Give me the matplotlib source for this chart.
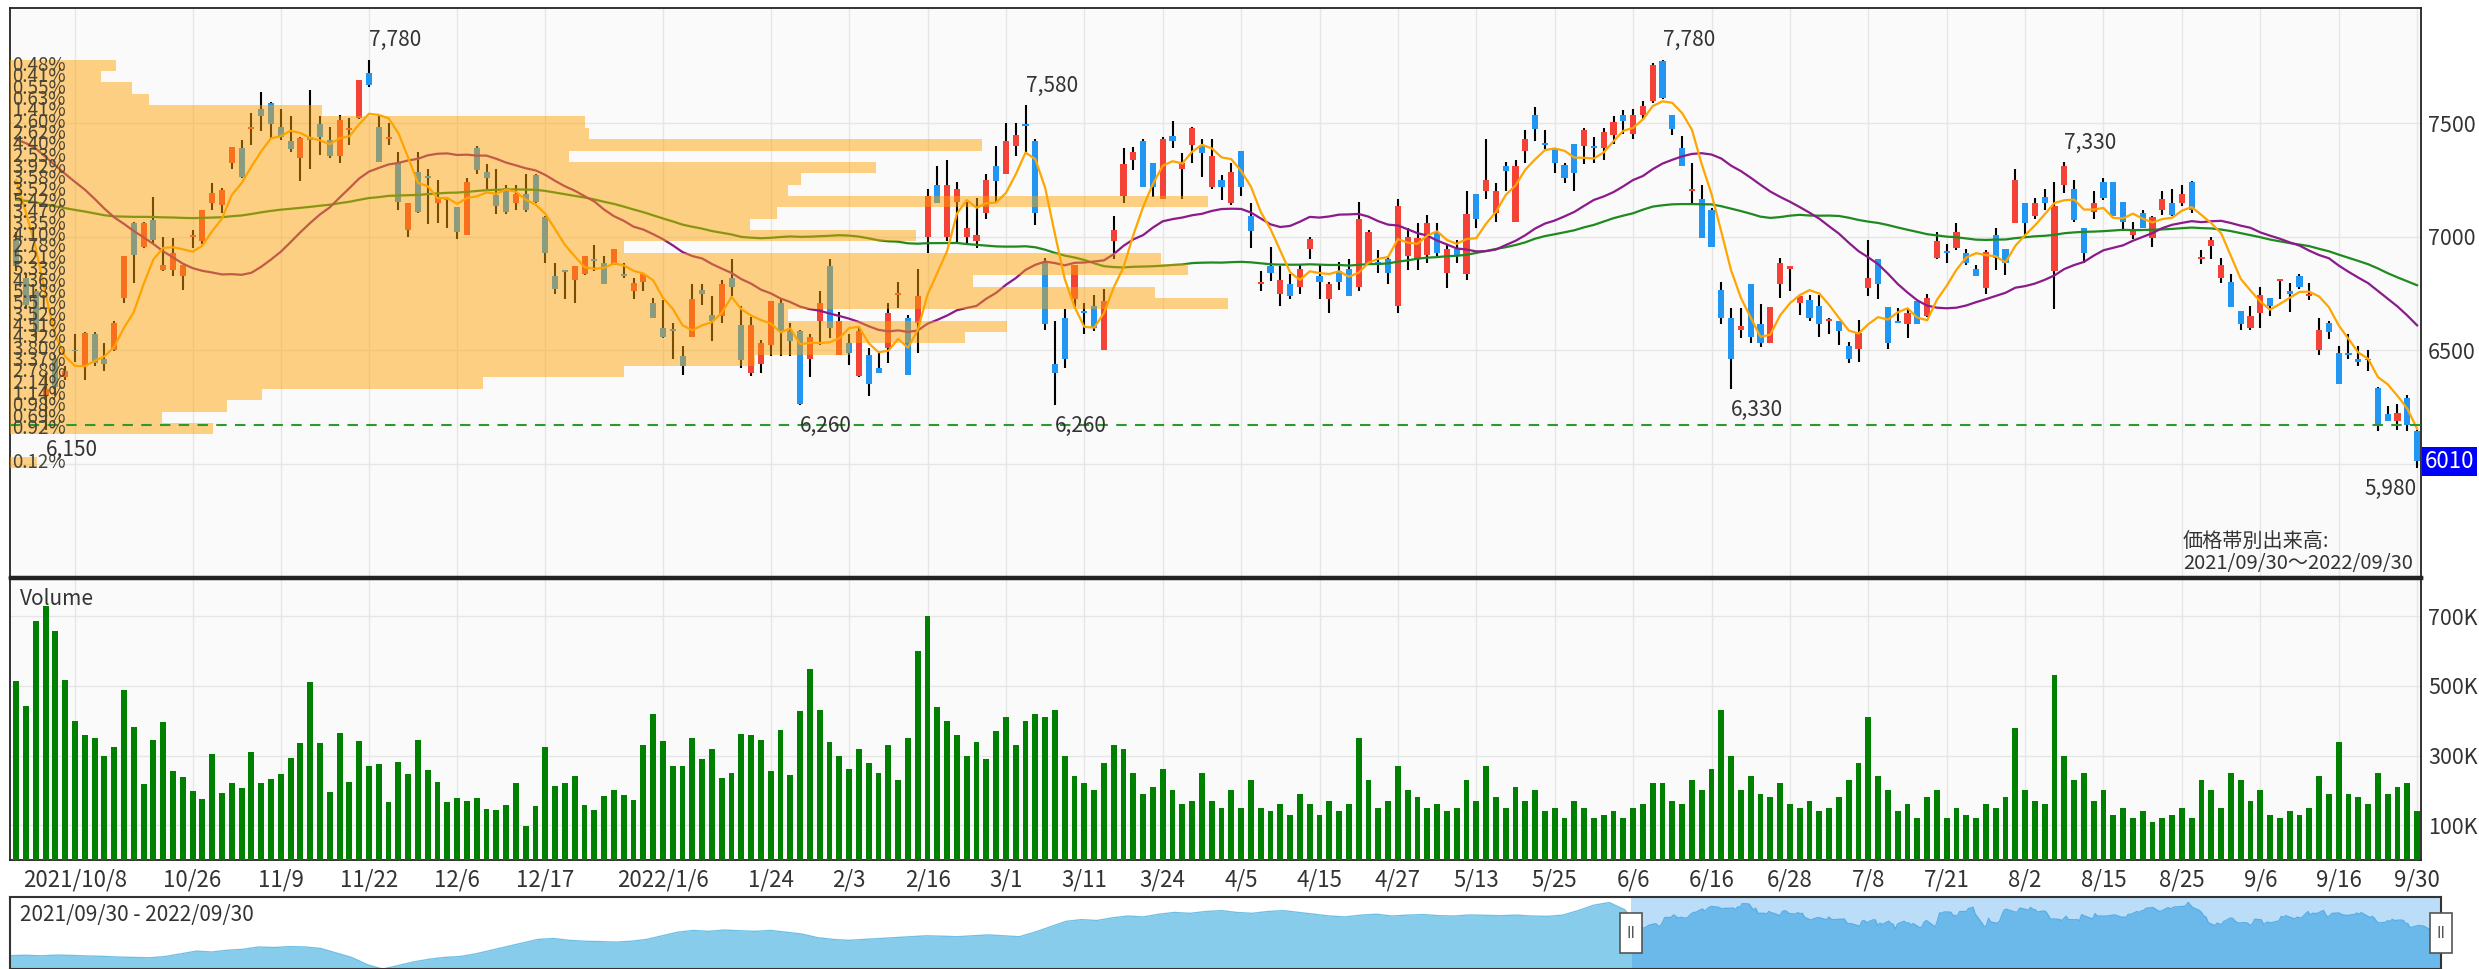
import numpy as np
import pandas as pd
import matplotlib
matplotlib.use("Agg")
import matplotlib.pyplot as plt
import matplotlib.dates as mdates
import matplotlib.transforms as mtrans
from matplotlib.patches import Rectangle

plt.rcParams['font.family'] = ['Noto Sans CJK JP', 'DejaVu Sans']

# ---- data -------------------------------------------------------------
jp_holidays = ["2021-11-03", "2021-11-23", "2021-12-31", "2022-01-03", "2022-01-10",
               "2022-02-11", "2022-02-23", "2022-03-21", "2022-04-29", "2022-05-03",
               "2022-05-04", "2022-05-05", "2022-07-18", "2022-08-11", "2022-09-19",
               "2022-09-23"]

opens = [6990, 6820, 6760, 6300, 6460, 6380, 6500, 6430, 6570, 6460,
         6500, 6730, 7060, 6955, 7075, 6855, 6855, 6825, 7000, 6980,
         7150, 7140, 7325, 7390, 7475, 7565, 7590, 7485, 7420, 7345,
         7440, 7495, 7425, 7355, 7470, 7525, 7720, 7485, 7430, 7325,
         7030, 7285, 7265, 7150, 7165, 7130, 7010, 7390, 7285, 7185,
         7215, 7150, 7190, 7270, 7085, 6825, 6850, 6810, 6835, 6900,
         6885, 6875, 6835, 6760, 6800, 6710, 6600, 6590, 6475, 6560,
         6765, 6655, 6650, 6820, 6610, 6400, 6440, 6525, 6710, 6585,
         6585, 6460, 6630, 6870, 6480, 6530, 6385, 6480, 6420, 6510,
         6745, 6640, 6620, 7000, 7230, 7000, 7155, 7000, 6980, 7105,
         7310, 7275, 7400, 7495, 7420, 6885, 6440, 6640, 6725, 6675,
         6695, 6500, 6980, 7180, 7340, 7420, 7325, 7165, 7445, 7300,
         7405, 7405, 7220, 7250, 7150, 7380, 7090, 6790, 6870, 6750,
         6790, 6780, 6945, 6825, 6725, 6850, 6860, 6780, 6885, 6890,
         6900, 6695, 6915, 6900, 6920, 7015, 6840, 6945, 6835, 7190,
         7200, 7105, 7310, 7065, 7380, 7535, 7410, 7385, 7315, 7410,
         7400, 7400, 7390, 7450, 7535, 7455, 7535, 7600, 7775, 7535,
         7390, 7200, 7165, 7120, 6765, 6640, 6590, 6790, 6615, 6530,
         6790, 6860, 6710, 6720, 6695, 6630, 6630, 6520, 6505, 6775,
         6900, 6690, 6630, 6615, 6715, 6650, 6905, 6935, 6950, 6930,
         6860, 6775, 7010, 6945, 7060, 7150, 7090, 7175, 6850, 7230,
         7210, 7040, 7110, 7240, 7240, 7155, 7010, 7105, 6995, 7120,
         7150, 7150, 7240, 6900, 6960, 6820, 6800, 6675, 6600, 6665,
         6730, 6805, 6760, 6825, 6740, 6500, 6620, 6490, 6490, 6460,
         6460, 6335, 6220, 6190, 6290, 6145]
highs = [7020, 6840, 6770, 6400, 6480, 6430, 6570, 6580, 6580, 6530,
         6630, 6915, 7065, 7065, 7175, 7000, 6995, 6875, 7030, 7120,
         7235, 7215, 7395, 7425, 7545, 7640, 7595, 7565, 7530, 7440,
         7645, 7530, 7485, 7535, 7525, 7690, 7780, 7535, 7500, 7375,
         7150, 7375, 7300, 7250, 7170, 7130, 7260, 7400, 7320, 7300,
         7230, 7230, 7275, 7275, 7090, 6885, 6850, 6870, 6915, 6965,
         6915, 6945, 6885, 6820, 6835, 6730, 6720, 6620, 6520, 6790,
         6790, 6740, 6810, 6900, 6695, 6645, 6545, 6715, 6730, 6620,
         6590, 6570, 6760, 6900, 6670, 6570, 6600, 6510, 6490, 6710,
         6800, 6655, 6860, 7210, 7310, 7340, 7240, 7155, 7170, 7275,
         7400, 7500, 7500, 7580, 7430, 6905, 6630, 6680, 6875, 6710,
         6745, 6770, 7090, 7390, 7395, 7430, 7325, 7440, 7510, 7370,
         7485, 7430, 7430, 7270, 7325, 7380, 7150, 6850, 6955, 6870,
         6835, 6875, 7000, 6875, 6800, 6890, 6900, 7155, 7030, 6940,
         6915, 7165, 7040, 7060, 7095, 7060, 6965, 6985, 7200, 7190,
         7430, 7235, 7330, 7340, 7470, 7570, 7470, 7385, 7325, 7410,
         7480, 7440, 7480, 7530, 7560, 7565, 7600, 7765, 7780, 7535,
         7445, 7325, 7230, 7125, 6800, 6685, 6685, 6790, 6705, 6690,
         6905, 6870, 6740, 6745, 6745, 6640, 6630, 6535, 6635, 6985,
         6900, 6690, 6685, 6685, 6715, 6750, 7020, 6970, 7060, 6945,
         6875, 6940, 7040, 6945, 7300, 7150, 7170, 7210, 7240, 7330,
         7250, 7040, 7200, 7260, 7240, 7155, 7065, 7120, 7090, 7200,
         7210, 7230, 7245, 6940, 7000, 6905, 6835, 6675, 6695, 6780,
         6730, 6815, 6795, 6835, 6795, 6640, 6630, 6520, 6570, 6520,
         6500, 6340, 6255, 6265, 6305, 6150]
lows = [6850, 6680, 6560, 6150, 6300, 6370, 6450, 6370, 6430, 6410,
        6495, 6710, 6795, 6950, 6970, 6850, 6825, 6765, 6950, 6970,
        7120, 7105, 7300, 7260, 7405, 7465, 7435, 7425, 7375, 7245,
        7300, 7360, 7345, 7325, 7405, 7520, 7660, 7330, 7405, 7120,
        7000, 7105, 7055, 7060, 7040, 6990, 7010, 7275, 7210, 7100,
        7100, 7120, 7110, 7150, 6885, 6750, 6725, 6710, 6830, 6850,
        6790, 6875, 6820, 6725, 6760, 6640, 6555, 6460, 6390, 6560,
        6700, 6540, 6620, 6740, 6420, 6385, 6400, 6475, 6475, 6475,
        6260, 6380, 6525, 6555, 6480, 6435, 6380, 6300, 6400, 6445,
        6685, 6390, 6490, 6930, 7150, 6980, 6970, 6970, 6950, 7080,
        7150, 7275, 7355, 7375, 7050, 6590, 6260, 6420, 6685, 6570,
        6585, 6500, 6900, 7150, 7295, 7220, 7175, 7165, 7390, 7165,
        7325, 7265, 7210, 7160, 7140, 7180, 6950, 6760, 6805, 6695,
        6725, 6750, 6900, 6725, 6665, 6765, 6740, 6760, 6885, 6840,
        6790, 6665, 6855, 6855, 6885, 6915, 6775, 6885, 6810, 7040,
        7165, 7065, 7200, 7065, 7325, 7420, 7385, 7280, 7235, 7200,
        7320, 7325, 7340, 7410, 7455, 7430, 7515, 7590, 7605, 7450,
        7310, 7150, 6995, 6955, 6615, 6330, 6555, 6530, 6515, 6530,
        6730, 6760, 6655, 6630, 6560, 6570, 6525, 6445, 6450, 6740,
        6725, 6505, 6620, 6555, 6615, 6645, 6900, 6885, 6940, 6875,
        6825, 6750, 6855, 6830, 7060, 7010, 7080, 7120, 6680, 7195,
        7065, 6885, 7080, 7160, 7090, 7025, 6990, 7040, 6955, 7095,
        7090, 7135, 7105, 6880, 6900, 6795, 6690, 6590, 6590, 6600,
        6650, 6725, 6670, 6770, 6720, 6480, 6550, 6350, 6460, 6430,
        6410, 6145, 6190, 6150, 6145, 5980]
closes = [6870, 6700, 6580, 6330, 6340, 6410, 6495, 6575, 6445, 6440,
          6620, 6915, 6920, 7060, 6985, 6875, 6930, 6875, 7005, 7120,
          7195, 7205, 7395, 7265, 7485, 7530, 7495, 7440, 7385, 7435,
          7425, 7440, 7355, 7515, 7480, 7690, 7670, 7330, 7440, 7155,
          7150, 7110, 7260, 7175, 7160, 7020, 7240, 7295, 7260, 7135,
          7110, 7190, 7120, 7155, 6930, 6770, 6845, 6870, 6915, 6895,
          6790, 6945, 6825, 6795, 6835, 6640, 6560, 6585, 6430, 6725,
          6750, 6630, 6790, 6780, 6455, 6610, 6530, 6715, 6585, 6540,
          6265, 6560, 6710, 6600, 6630, 6490, 6585, 6350, 6400, 6665,
          6750, 6390, 6740, 7180, 7150, 7230, 7210, 7040, 7010, 7250,
          7245, 7420, 7450, 7490, 7105, 6615, 6400, 6460, 6875, 6665,
          6600, 6715, 7030, 7320, 7375, 7220, 7220, 7430, 7420, 7325,
          7480, 7370, 7355, 7220, 7285, 7220, 7025, 6800, 6840, 6810,
          6740, 6860, 6990, 6800, 6790, 6800, 6740, 7080, 7020, 6875,
          6840, 7135, 7000, 6995, 7060, 6930, 6945, 6915, 7100, 7080,
          7250, 7200, 7290, 7310, 7430, 7475, 7405, 7325, 7260, 7280,
          7470, 7390, 7460, 7505, 7510, 7535, 7575, 7755, 7610, 7475,
          7310, 7210, 6995, 6955, 6640, 6460, 6605, 6560, 6530, 6690,
          6885, 6870, 6740, 6640, 6615, 6635, 6585, 6460, 6575, 6820,
          6790, 6530, 6620, 6665, 6615, 6730, 6980, 6930, 7020, 6885,
          6825, 6935, 6905, 6885, 7250, 7060, 7150, 7150, 7135, 7310,
          7075, 6930, 7150, 7170, 7090, 7065, 7035, 7040, 7085, 7165,
          7095, 7190, 7120, 6910, 6985, 6875, 6690, 6615, 6650, 6745,
          6695, 6815, 6750, 6780, 6750, 6590, 6580, 6350, 6480, 6450,
          6455, 6175, 6190, 6225, 6170, 6010]
# volume in thousands of shares
volumes = [514, 442, 687, 730, 658, 516, 400, 359, 350, 299,
           324, 489, 382, 218, 345, 395, 257, 237, 197, 176,
           305, 192, 220, 208, 309, 220, 233, 246, 293, 335,
           511, 335, 194, 365, 225, 341, 269, 275, 167, 282,
           248, 346, 258, 224, 168, 177, 170, 179, 146, 145,
           158, 220, 98, 154, 326, 212, 220, 242, 158, 145,
           184, 202, 186, 173, 329, 419, 343, 269, 271, 349,
           291, 320, 236, 251, 361, 358, 345, 256, 374, 245,
           429, 548, 430, 340, 300, 260, 320, 280, 250, 330,
           230, 350, 600, 700, 440, 400, 360, 300, 340, 290,
           370, 410, 330, 400, 420, 410, 430, 300, 240, 220,
           200, 280, 330, 320, 250, 190, 210, 260, 200, 160,
           170, 250, 170, 150, 200, 150, 230, 150, 140, 160,
           130, 190, 160, 130, 170, 140, 160, 350, 230, 150,
           170, 270, 200, 180, 150, 160, 140, 150, 230, 170,
           270, 180, 150, 210, 170, 200, 140, 150, 120, 170,
           150, 120, 130, 140, 120, 150, 160, 220, 220, 170,
           160, 230, 200, 260, 430, 300, 200, 240, 190, 180,
           220, 160, 150, 170, 140, 150, 180, 230, 280, 410,
           240, 200, 140, 160, 120, 180, 200, 120, 150, 130,
           120, 160, 150, 180, 380, 200, 170, 160, 530, 300,
           230, 250, 170, 200, 130, 150, 120, 140, 110, 120,
           130, 150, 120, 230, 200, 150, 250, 230, 170, 200,
           130, 120, 140, 130, 150, 240, 190, 340, 190, 180,
           160, 250, 190, 210, 220, 140]
# closes before the window, used only for the moving averages
hist_close = [7050, 7080, 7020, 6990, 7010, 7060, 7100, 7070, 7040, 7000,
              6980, 7020, 7050, 7030, 7000, 6980, 7010, 7060, 7060,
              7080, 7100, 7060, 7020, 7000, 6980, 7010, 7050, 7090, 7120,
              7100, 7060, 7030, 7000, 7020, 7050, 7070, 7040, 7010, 7030, 7060,
              7020, 6990, 6960, 6940, 6960, 6990, 7000, 7010, 6990, 7050,
              7120, 7180, 7240, 7290, 7330, 7380, 7420, 7460, 7520, 7580,
              7640, 7700, 7760, 7720, 7680, 7600, 7560, 7500, 7420, 7380,
              7420, 7360, 7340, 7260]
# weekly closes for the navigator, 2019/09/30 .. 2021/09/27
nav_weekly = [4800, 4820, 4790, 4830, 4810, 4780, 4760, 4720, 4700,
              4680, 4750, 4900, 5050, 5000, 5100, 5150,
              5280, 5250, 5300, 5280, 5200, 4950,
              4700, 4300, 4050, 4250,
              4450, 4600, 4700, 4750, 4900, 5100,
              5300, 5500, 5700, 5750, 5650, 5600, 5580,
              5550, 5600, 5700, 5900, 6100, 6200, 6150, 6220, 6180,
              6150, 6200, 6100, 6000, 5800, 5700, 5650, 5700, 5750,
              5800, 5850, 5900, 5880, 5850, 5900, 5950, 5900, 5850,
              6100, 6400, 6700, 6800, 6750, 6900, 7000, 6950, 7100,
              7200, 7150, 7250, 7300, 7200, 7150, 7250, 7300, 7200,
              7100, 7000, 6950, 7050, 7100, 7000, 7050, 7080, 7020,
              7000, 7060, 7040, 7020, 7050, 7000, 6980, 7050,
              7300, 7600, 7750, 7350]
# price-by-volume profile, 50-yen bins from 7780 downward (percent)
profile_top = 7780
profile_step = 50
profile_pct = [0.48, 0.41, 0.55, 0.63, 1.41, 2.60, 2.62, 4.40, 2.53, 3.92,
               3.58, 3.52, 5.42, 3.47, 3.35, 4.10, 2.78, 5.21, 5.33, 4.36,
               5.18, 5.51, 3.52, 4.51, 4.32, 3.80, 3.37, 2.78, 2.14, 1.14,
               0.98, 0.69, 0.92, 0.0, 0.0, 0.12]
tick_dates = ["2021-10-08", "2021-10-26", "2021-11-09", "2021-11-22", "2021-12-06",
              "2021-12-17", "2022-01-06", "2022-01-24", "2022-02-03", "2022-02-16",
              "2022-03-01", "2022-03-11", "2022-03-24", "2022-04-05", "2022-04-15",
              "2022-04-27", "2022-05-13", "2022-05-25", "2022-06-06", "2022-06-16",
              "2022-06-28", "2022-07-08", "2022-07-21", "2022-08-02", "2022-08-15",
              "2022-08-25", "2022-09-06", "2022-09-16", "2022-09-30"]
tick_labels = ["2021/10/8", "10/26", "11/9", "11/22", "12/6", "12/17", "2022/1/6",
               "1/24", "2/3", "2/16", "3/1", "3/11", "3/24", "4/5", "4/15", "4/27",
               "5/13", "5/25", "6/6", "6/16", "6/28", "7/8", "7/21", "8/2", "8/15",
               "8/25", "9/6", "9/16", "9/30"]
peak_idx = [36, 103, 168, 209]
trough_idx = [3, 80, 106, 175, 245]

# ---- derived ----------------------------------------------------------
dates = pd.bdate_range("2021-09-30", "2022-09-30", freq="C", holidays=jp_holidays)
n = len(closes)
x = np.arange(n)
o, h, l, c = (np.array(a, float) for a in (opens, highs, lows, closes))
allc = pd.Series(hist_close + closes, dtype=float)
ma = {k: allc.rolling(k).mean().values[len(hist_close):] for k in (5, 25, 75)}
tick_pos = [dates.get_loc(pd.Timestamp(d)) for d in tick_dates]

UP, DOWN = "#F44336", "#2196F3"
GRID = "#e6e6e6"
TXT = "#333333"

W, H = 2479, 969
fig = plt.figure(figsize=(W / 100, H / 100), dpi=100)


def box(x0, y0, x1, y1):
    return [x0 / W, 1 - y1 / H, (x1 - x0) / W, (y1 - y0) / H]


ax = fig.add_axes(box(10, 8, 2421, 577))
axv = fig.add_axes(box(10, 578, 2421, 860), sharex=ax)
axn = fig.add_axes(box(10, 897, 2441, 969))

for a in (ax, axv):
    a.set_facecolor("#fafafa")
    for s in a.spines.values():
        s.set_color("#222222")
        s.set_linewidth(1.3)
axv.spines["top"].set_linewidth(2.5)
ax.spines["bottom"].set_linewidth(2.5)

# ---- price panel ------------------------------------------------------
ax.set_xlim(-0.63, 245.4)
ax.set_ylim(5501, 8008)
ax.vlines(x, l, h, color="black", lw=1.5, zorder=2)
body_lo = np.minimum(o, c)
body_h = np.maximum(np.abs(c - o), 8)
ax.bar(x, body_h, bottom=body_lo, width=0.62, color=np.where(c >= o, UP, DOWN),
       linewidth=0, zorder=3)
ax.plot(x, ma[75], color="#1f8a1f", lw=1.6, zorder=4)
ax.plot(x, ma[25], color="#8b1a8b", lw=1.6, zorder=4)
ax.plot(x, ma[5], color="#FFA500", lw=1.6, zorder=4)

x0, x1 = ax.get_xlim()
pct = np.array(profile_pct)
centers = profile_top - profile_step * (np.arange(len(pct)) + 0.5)
ax.barh(centers, pct / pct.max() * 0.505 * (x1 - x0), height=profile_step, left=x0,
        color="#FFA200", alpha=0.48, linewidth=0, zorder=5)
for yc, p in zip(centers, pct):
    if p > 0:
        ax.text(x0 + 0.25, yc, f"{p:.2f}%", fontsize=13.5, ha="left", va="center",
                color="#4a4434", zorder=8)

ax.axhline(closes[-2], color="#2e9a2e", lw=1.5, ls=(0, (5, 4)), zorder=6)

for i in peak_idx:
    ax.annotate(f"{highs[i]:,}", (i, highs[i]), xytext=(0, 6), textcoords="offset points",
                ha="left", va="bottom", fontsize=15, color=TXT, zorder=9)
for i in trough_idx:
    ax.annotate(f"{lows[i]:,}", (i, lows[i]), xytext=(0, -7), textcoords="offset points",
                ha="right" if i == n - 1 else "left", va="top", fontsize=15,
                color=TXT, zorder=9)

ax.text(0.9013, 0.006, "価格帯別出来高:\n2021/09/30～2022/09/30", transform=ax.transAxes,
        ha="left", va="bottom", fontsize=14.5, color=TXT, linespacing=0.95, zorder=9)

ax.yaxis.tick_right()
ax.set_yticks([6000, 6500, 7000, 7500])
ax.set_yticklabels(["", "6500", "7000", "7500"])
ax.set_xticks(tick_pos)
ax.tick_params(axis="both", length=0, labelsize=15.5, labelcolor=TXT, pad=5,
               labelbottom=False)
ax.grid(True, color=GRID, lw=1, zorder=0)
ax.set_axisbelow(True)

trans = mtrans.blended_transform_factory(ax.transAxes, ax.transData)
ax.text(1.0 + 4 / 2411, closes[-1], f"{closes[-1]}", transform=trans, ha="left",
        va="center", color="white", fontsize=16, clip_on=False, zorder=20,
        bbox=dict(boxstyle="square,pad=0.12", fc="#0000FF", ec="none"))

# ---- volume panel -----------------------------------------------------
axv.bar(x, np.array(volumes) * 1000, width=0.6, color="#008000", linewidth=0, zorder=3)
axv.set_ylim(0, 810000)
axv.yaxis.tick_right()
axv.set_yticks([100000, 300000, 500000, 700000])
axv.set_yticklabels(["100K", "300K", "500K", "700K"])
axv.set_xticks(tick_pos)
axv.set_xticklabels(tick_labels)
axv.tick_params(axis="both", length=0, labelsize=15.5, labelcolor=TXT, pad=5)
axv.tick_params(axis="x", labelsize=16, pad=6)
axv.grid(True, color=GRID, lw=1, zorder=0)
axv.set_axisbelow(True)
axv.text(0.004, 0.965, "Volume", transform=axv.transAxes, ha="left", va="top",
         fontsize=15, color=TXT)

# ---- navigator --------------------------------------------------------
nav_dates = pd.date_range("2019-09-30", periods=len(nav_weekly), freq="7D")
axn.set_xlim(pd.Timestamp("2019-09-30"), pd.Timestamp("2022-09-30"))
axn.set_ylim(4058, 8058)
axn.axvspan(dates[0], dates[-1], color="#BCDDF8", lw=0, zorder=0)
hx = list(nav_dates) + [dates[0]]
hy = nav_weekly + [closes[0]]
axn.fill_between(hx, hy, 0, color="#87CDEB", lw=0, zorder=1)
axn.plot(hx, hy, color="#6fc0e6", lw=1, zorder=2)
axn.fill_between(dates, closes, 0, color="#6AB9EA", lw=0, zorder=1)
axn.plot(dates, closes, color="#58aee6", lw=1, zorder=2)
axn.set_xticks([])
axn.set_yticks([])
for s in axn.spines.values():
    s.set_color("#333333")
    s.set_linewidth(1.5)
axn.text(0.004, 0.9, "2021/09/30 - 2022/09/30", transform=axn.transAxes, ha="left",
         va="top", fontsize=15, color=TXT, zorder=5)
ntrans = mtrans.blended_transform_factory(axn.transData, axn.transAxes)
for d in (dates[0], dates[-1]):
    dn = mdates.date2num(d)
    axn.add_patch(Rectangle((dn - 5, 0.22), 10, 0.56, transform=ntrans, fc="white",
                            ec="#555555", lw=1.2, zorder=6, clip_on=False))
    axn.text(dn, 0.5, "II", transform=ntrans, ha="center", va="center",
             fontsize=11, color="#555555", zorder=7, family="DejaVu Sans")

fig.savefig("out.png", dpi=100, facecolor="white")
